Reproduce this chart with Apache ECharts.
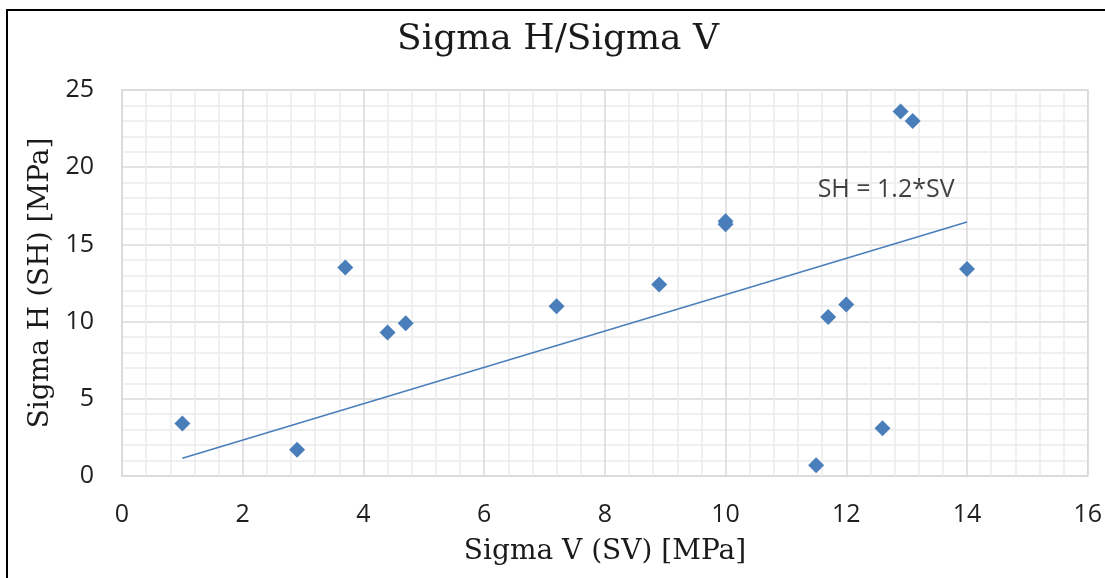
<!DOCTYPE html>
<html>
<head>
<meta charset="utf-8">
<script src="https://cdn.jsdelivr.net/npm/echarts@6/dist/echarts.min.js"></script>
<style>
  html, body { margin: 0; padding: 0; background: #ffffff; }
  #chart { width: 1105px; height: 578px; }
</style>
</head>
<body>
<div id="chart"></div>
<script>
// Measured stresses: vertical (SV) vs horizontal (SH), MPa
const sigmaV = [1.0, 2.9, 3.7, 4.4, 4.7, 7.2, 8.9, 10.0, 10.0, 11.7, 12.0, 14.0, 12.9, 13.1, 12.6, 11.5];
const sigmaH = [3.4, 1.7, 13.5, 9.3, 9.9, 11.0, 12.4, 16.5, 16.3, 10.3, 11.1, 13.4, 23.6, 23.0, 3.1, 0.7];

// Fitted relation SH = 1.2*SV, drawn between its end points
const trendX = [1.0, 14.0];
const trendY = [1.15, 16.45];
const trendLabel = 'SH = 1.2*SV';
const trendLabelAt = [12.66, 18.5];

const xTicks = [0, 2, 4, 6, 8, 10, 12, 14, 16];
const yTicks = [0, 5, 10, 15, 20, 25];

const chartTitle = 'Sigma H/Sigma V';
const xTitle = 'Sigma V (SV) [MPa]';
const yTitle = 'Sigma H (SH) [MPa]';

const blue = '#4a7ebb';
const sans = '"Open Sans", "Liberation Sans", sans-serif';
const serif = '"DejaVu Serif", "Liberation Serif", serif';

const chart = echarts.init(document.getElementById('chart'), null, { renderer: 'canvas' });

const gridBox = { left: 122, top: 90, right: 15, bottom: 102 };

chart.setOption({
  animation: false,
  backgroundColor: '#ffffff',
  grid: {
    left: gridBox.left, top: gridBox.top, right: gridBox.right, bottom: gridBox.bottom,
    show: true, borderColor: '#d9d9d9', borderWidth: 1.5, backgroundColor: 'transparent'
  },
  xAxis: {
    type: 'value',
    min: xTicks[0], max: xTicks[xTicks.length - 1], interval: xTicks[1] - xTicks[0],
    axisLine: { show: false },
    axisTick: { show: false },
    axisLabel: { color: '#1f1f1f', fontFamily: sans, fontSize: 25, margin: 26 },
    splitLine: { show: true, lineStyle: { color: '#d9d9d9', width: 1.5 } },
    minorTick: { show: false, splitNumber: 5 },
    minorSplitLine: { show: true, lineStyle: { color: '#ececec', width: 1.5 } }
  },
  yAxis: {
    type: 'value',
    min: yTicks[0], max: yTicks[yTicks.length - 1], interval: yTicks[1] - yTicks[0],
    axisLine: { show: false },
    axisTick: { show: false },
    axisLabel: { color: '#1f1f1f', fontFamily: sans, fontSize: 25, margin: 28 },
    splitLine: { show: true, lineStyle: { color: '#d9d9d9', width: 1.5 } },
    minorTick: { show: false, splitNumber: 5 },
    minorSplitLine: { show: true, lineStyle: { color: '#ececec', width: 1.5 } }
  },
  series: [
    {
      name: 'Trend',
      type: 'line',
      data: trendX.map((x, i) => [x, trendY[i]]),
      symbol: 'none',
      lineStyle: { color: blue, width: 1.5 },
      z: 2
    },
    {
      name: 'SH vs SV',
      type: 'scatter',
      data: sigmaV.map((x, i) => [x, sigmaH[i]]),
      symbol: 'diamond',
      symbolSize: 16,
      itemStyle: { color: blue, opacity: 1 },
      z: 3
    },
    {
      name: 'Trend label',
      type: 'scatter',
      data: [trendLabelAt],
      symbolSize: 0,
      silent: true,
      label: {
        show: true, position: 'inside', formatter: trendLabel,
        color: '#111111', fontFamily: sans, fontSize: 25
      },
      z: 4
    }
  ],
  graphic: [
    {
      type: 'polyline',
      shape: { points: [[7, 578], [7, 10], [1105, 10]] },
      style: { stroke: '#000000', lineWidth: 2, fill: null },
      silent: true
    },
    {
      type: 'text', x: 558, y: 40,
      style: { text: chartTitle, fill: '#1a1a1a', font: '36px ' + serif, align: 'center', verticalAlign: 'middle' }
    },
    {
      type: 'text', x: 605, y: 552,
      style: { text: xTitle, fill: '#1a1a1a', font: '28px ' + serif, align: 'center', verticalAlign: 'middle' }
    },
    {
      type: 'text', x: 41, y: 283, rotation: Math.PI / 2,
      style: { text: yTitle, fill: '#1a1a1a', font: '28px ' + serif, align: 'center', verticalAlign: 'middle' }
    }
  ]
});
</script>
</body>
</html>
